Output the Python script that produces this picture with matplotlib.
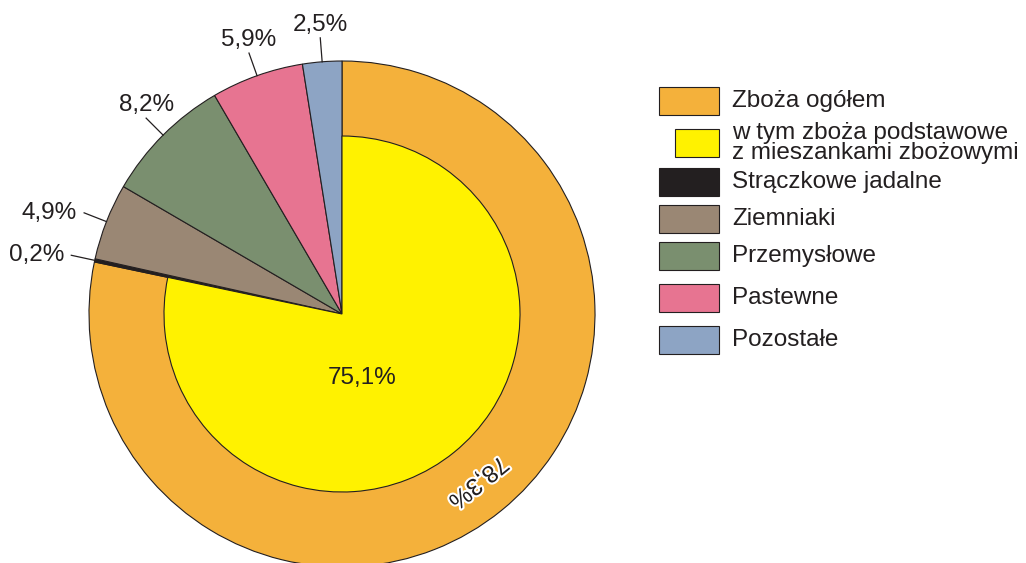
import matplotlib
matplotlib.use("Agg")
import matplotlib.pyplot as plt
import matplotlib.patches as mpatches
import matplotlib.patheffects as pe
import numpy as np

plt.rcParams["font.family"] = ["Liberation Sans", "DejaVu Sans"]

# ── Data ───────────────────────────────────────────────────────────────────────
categories = ["Zboża ogółem", "Strączkowe jadalne", "Ziemniaki",
              "Przemysłowe", "Pastewne", "Pozostałe"]
shares = [78.3, 0.2, 4.9, 8.2, 5.9, 2.5]
labels = ["78,3%", "0,2%", "4,9%", "8,2%", "5,9%", "2,5%"]
colors = ["#F4B13B", "#231F20", "#9A8774", "#7A8F6F", "#E77491", "#8DA4C4"]

sub_label = "w tym zboża podstawowe\nz mieszankami zbożowymi"
sub_share = 75.1
sub_text = "75,1%"
sub_color = "#FFF200"

EDGE = "#231F20"
FS = 17.5

# ── Figure: axes in pixel units ───────────────────────────────────────────────
fig = plt.figure(figsize=(10.26, 5.63), dpi=100)
ax = fig.add_axes([0, 0, 1, 1])

CX, CY = 342, 249
R_OUT, R_IN = 253, 178

wedges, _ = ax.pie(shares, colors=colors, startangle=90, counterclock=False,
                   radius=R_OUT, center=(CX, CY),
                   wedgeprops=dict(edgecolor=EDGE, linewidth=0.8))

# inner sector: the basic cereals share, drawn inside the cereal sector
inner, _ = ax.pie([shares[0], 100 - shares[0]], colors=[sub_color, "none"],
                  startangle=90, counterclock=False, radius=R_IN,
                  center=(CX, CY), wedgeprops=dict(edgecolor=EDGE, linewidth=0.8))
inner[1].set_visible(False)

ax.set_xlim(0, 1026)
ax.set_ylim(0, 563)
ax.set_aspect("equal")
ax.axis("off")

# ── Slice labels ───────────────────────────────────────────────────────────────
for w, lab in zip(wedges[1:], labels[1:]):
    mid = np.radians((w.theta1 + w.theta2) / 2)
    c, s = np.cos(mid), np.sin(mid)
    x0, y0 = CX + R_OUT * c, CY + R_OUT * s
    x1, y1 = CX + (R_OUT + 24) * c, CY + (R_OUT + 24) * s
    ax.plot([x0, x1], [y0, y1], color=EDGE, linewidth=0.9)
    if c < -0.8:
        ax.text(x1 - 7, y1, lab, ha="right", va="center", fontsize=FS, color=EDGE)
    else:
        ax.text(x1, y1 + 2, lab, ha="center", va="bottom", fontsize=FS, color=EDGE)

# big cereal label, along the ring (reads clockwise, upside down)
w0 = wedges[0]
mid_deg = (w0.theta1 + w0.theta2) / 2
mid = np.radians(mid_deg)
r_mid = (R_OUT + R_IN) / 2
ax.text(CX + r_mid * np.cos(mid), CY + r_mid * np.sin(mid), labels[0],
        rotation=mid_deg - 90, rotation_mode="anchor",
        ha="center", va="center", fontsize=FS, color=EDGE,
        path_effects=[pe.withStroke(linewidth=3, foreground="white")])

ax.text(CX + 20, CY - 64, sub_text, ha="center", va="center", fontsize=FS, color=EDGE)

# ── Legend ─────────────────────────────────────────────────────────────────────
BOX_X, BOX_W, BOX_H, TXT_X = 659, 60, 28, 732
leg_names = [categories[0], sub_label] + categories[1:]
leg_colors = [colors[0], sub_color] + colors[1:]
leg_tops = [87, 129, 168, 205, 242, 284, 326]   # image-y of box tops

for name, col, top in zip(leg_names, leg_colors, leg_tops):
    y = 563 - top - BOX_H
    if col == sub_color:
        ax.add_patch(mpatches.Rectangle((BOX_X + 16, y), BOX_W - 16, BOX_H,
                                        facecolor=col, edgecolor=EDGE, linewidth=0.8))
    else:
        ax.add_patch(mpatches.Rectangle((BOX_X, y), BOX_W, BOX_H,
                                        facecolor=col, edgecolor=EDGE, linewidth=0.8))
    ax.text(TXT_X, y + BOX_H / 2, name, ha="left", va="center",
            fontsize=FS, linespacing=0.92, color=EDGE)

fig.savefig("out.png", dpi=100)
